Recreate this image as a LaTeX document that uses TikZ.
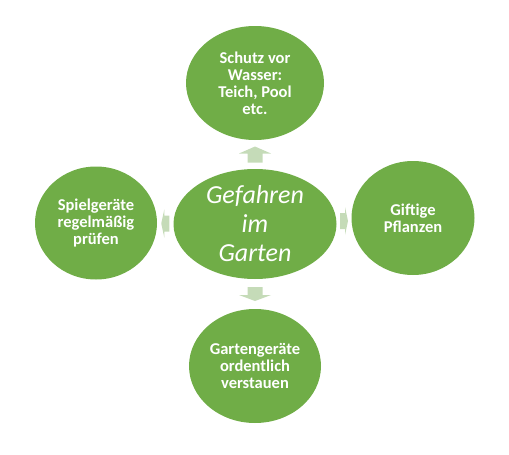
\documentclass[tikz,border=0pt]{standalone}
\usepackage{fontspec}
\setmainfont{Carlito}
\usetikzlibrary{calc, shapes.geometric}
\definecolor{leafgreen}{HTML}{70AD47}
\definecolor{palegreen}{HTML}{C5DBB8}

\begin{document}
\begin{tikzpicture}[x=1pt, y=-1pt,
	bubble/.style={ellipse, fill=leafgreen, inner sep=0pt, text=white, align=center,
		font=\fontsize{16.5}{17}\selectfont\bfseries},
	hub/.style={bubble, font=\fontsize{26}{29}\selectfont\itshape},
	blockarrow/.style={fill=palegreen}]

	\useasboundingbox (0,0) rectangle (509,455);

	\node[hub, minimum width=163pt, minimum height=110pt] (core) at (255,224) {Gefahren\\im\\Garten};
	\node[bubble, minimum width=138pt, minimum height=114pt] (water) at (255,83) {Schutz vor\\Wasser:\\Teich, Pool\\etc.};
	\node[bubble, minimum width=123pt, minimum height=114pt] (plants) at (413,218) {Giftige\\Pflanzen};
	\node[bubble, minimum width=122pt, minimum height=113pt] (play) at (96,223) {Spielgeräte\\regelmäßig\\prüfen};
	\node[bubble, minimum width=132pt, minimum height=114pt] (tools) at (255,366) {Gartengeräte\\ordentlich\\verstauen};

	\coordinate (up) at ($(core.north)!0.5!(water.south)$);
	\coordinate (down) at ($(core.south)!0.5!(tools.north)$);
	\coordinate (left) at ($(core.west)!0.5!(play.east)$);
	\coordinate (right) at ($(core.east)!0.5!(plants.west)$);

	\fill[blockarrow] (up) +(-7.5,8) -- +(-7.5,-1) -- +(-16,-1) -- +(0,-8) -- +(16,-1) -- +(7.5,-1) -- +(7.5,8) -- cycle;
	\fill[blockarrow] (down) +(-7.5,-7) -- +(-7.5,1) -- +(-16,1) -- +(0,7) -- +(16,1) -- +(7.5,1) -- +(7.5,-7) -- cycle;
	\fill[blockarrow] (left) +(4,-8) -- +(-1,-8) -- +(-1,-14) -- +(-4,0) -- +(-1,14) -- +(-1,8) -- +(4,8) -- cycle;
	\fill[blockarrow] (right) +(-4,-8) -- +(1,-8) -- +(1,-14) -- +(4,0) -- +(1,14) -- +(1,8) -- +(-4,8) -- cycle;

\end{tikzpicture}
\end{document}
